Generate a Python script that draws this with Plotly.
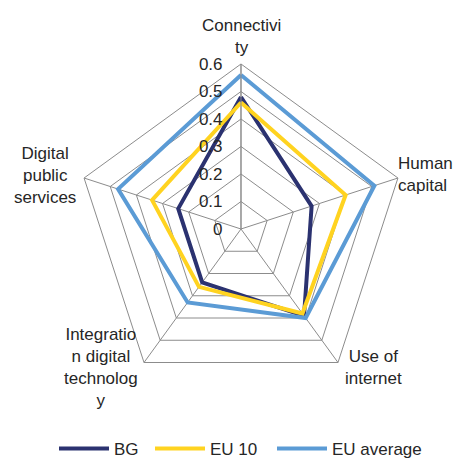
import plotly.graph_objects as go

categorias = ["Connectivity", "Human capital", "Use of internet",
              "Integration digital technology", "Digital public services"]
etiquetas = ["Connectivi<br>ty", "Human<br>capital", "Use of<br>internet",
             "Integratio<br>n digital<br>technolog<br>y", "Digital<br>public<br>services"]
bg = [0.48, 0.27, 0.39, 0.24, 0.24]
eu10 = [0.46, 0.40, 0.38, 0.26, 0.34]
eu_avg = [0.56, 0.51, 0.40, 0.33, 0.47]
ticks = [0, 0.1, 0.2, 0.3, 0.4, 0.5, 0.6]

W, H, OFF = 447, 459, 8  # el body de la pagina tiene 8px de margen, sin scroll


def px(x, y):
    return (x - OFF) / W, 1 - (y - OFF) / H


fig = go.Figure()
series = [("BG", bg, "#2b3270", "legend"), ("EU 10", eu10, "#ffd320", "legend2"),
          ("EU average", eu_avg, "#5b9bd5", "legend3")]
for nombre, vals, color, leg in series:
    fig.add_trace(go.Scatterpolar(
        r=vals + vals[:1], theta=categorias + categorias[:1],
        mode="lines", name=nombre, legend=leg, showlegend=True,
        line=dict(color=color, width=4)))

# etiquetas de las categorias como anotaciones (posicion como en el original)
pos_etq = [(241, 36, "center"), (396, 174, "left"), (373, 367, "center"),
           (101, 367, "center"), (45, 175, "center")]
for txt, (x, y, al) in zip(etiquetas, pos_etq):
    ax, ay = px(x, y)
    fig.add_annotation(text=txt, x=ax, y=ay, xref="paper", yref="paper", showarrow=False,
                       xanchor="left" if al == "left" else "center", yanchor="middle",
                       align=al, font=dict(size=17, color="#262626"))

# leyenda pegada al borde inferior
leg_comun = dict(orientation="h", yanchor="bottom", xanchor="left", itemwidth=50, y=0,
                 font=dict(size=17, color="#262626"), bgcolor="rgba(0,0,0,0)")
fig.update_layout(
    width=W, height=H,
    margin=dict(l=0, r=0, t=0, b=0),
    paper_bgcolor="white",
    showlegend=True,
    font=dict(family="Liberation Sans, Arial", size=17, color="#262626"),
    polar=dict(
        domain=dict(x=[0.1521, 0.8904], y=[0.159, 0.878]),
        bgcolor="white",
        gridshape="linear",
        radialaxis=dict(range=[0, 0.6], tickvals=ticks, ticktext=[str(t) for t in ticks],
                        angle=90, tickangle=90, side="counterclockwise",
                        showline=True, linecolor="#8c8c8c", linewidth=1,
                        gridcolor="#8c8c8c", gridwidth=1,
                        ticks="outside", ticklen=12, tickcolor="rgba(0,0,0,0)",
                        tickfont=dict(size=17, color="#262626")),
        angularaxis=dict(direction="clockwise", rotation=90, showticklabels=False,
                         linecolor="#8c8c8c", linewidth=1,
                         gridcolor="#8c8c8c", gridwidth=1, ticks=""),
    ),
    legend=dict(x=px(54, 0)[0], **leg_comun),
    legend2=dict(x=px(150, 0)[0], **leg_comun),
    legend3=dict(x=px(272, 0)[0], **leg_comun),
)

fig.write_html("out.html")
